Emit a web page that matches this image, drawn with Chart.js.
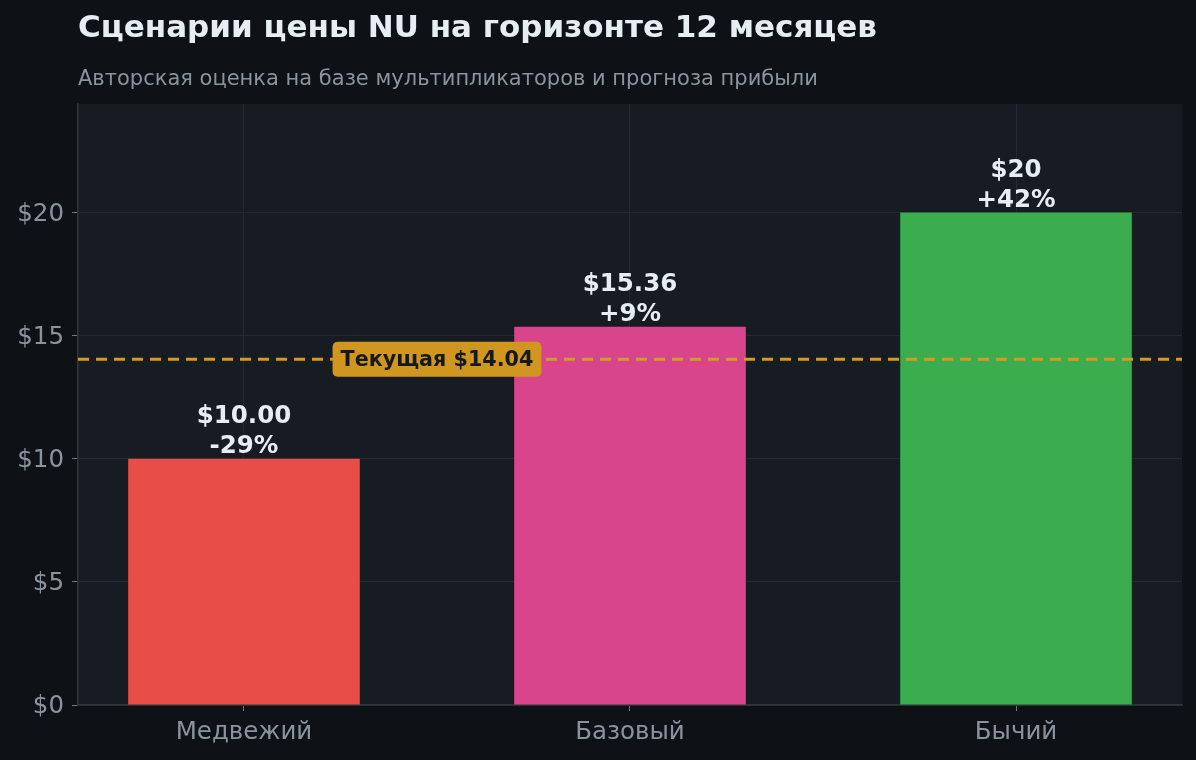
<!DOCTYPE html>
<html lang="ru">
<head>
<meta charset="utf-8">
<title>Сценарии цены NU</title>
<script src="https://cdn.jsdelivr.net/npm/chart.js@4.4.1/dist/chart.umd.min.js"></script>
<style>
    html, body { margin: 0; padding: 0; background: #0e1217; }
    #wrap { width: 1196px; height: 760px; }
</style>
</head>
<body>
<div id="wrap"><canvas id="chart" width="1196" height="760"></canvas></div>
<script>
// данные сценариев
const scenarios = ['Медвежий', 'Базовый', 'Бычий'];
const targetPrices = [10.00, 15.36, 20];
const priceLabels = ['$10.00', '$15.36', '$20'];
const changeLabels = ['-29%', '+9%', '+42%'];
const yTicks = [0, 5, 10, 15, 20];
const currentPrice = 14.04;
const currentLabel = 'Текущая $14.04';

const titleText = 'Сценарии цены NU на горизонте 12 месяцев';
const subtitleText = 'Авторская оценка на базе мультипликаторов и прогноза прибыли';

const barColors = ['#e64e47', '#d9458d', '#3bad4e'];
const FONT = '"DejaVu Sans", sans-serif';

const backgroundPlugin = {
    id: 'background',
    beforeDraw(chart) {
        const {ctx, chartArea} = chart;
        ctx.save();
        ctx.fillStyle = '#0e1217';
        ctx.fillRect(0, 0, chart.width, chart.height);
        ctx.fillStyle = '#171b22';
        ctx.fillRect(chartArea.left, chartArea.top, chartArea.right - chartArea.left, chartArea.bottom - chartArea.top);
        ctx.restore();
    }
};

const headerPlugin = {
    id: 'header',
    afterDraw(chart) {
        const {ctx, chartArea} = chart;
        ctx.save();
        ctx.textAlign = 'left';
        ctx.textBaseline = 'middle';
        ctx.fillStyle = '#e6edf3';
        ctx.font = 'bold 31px ' + FONT;
        ctx.fillText(titleText, chartArea.left, 29);
        ctx.fillStyle = '#8b949e';
        ctx.font = '21px ' + FONT;
        ctx.fillText(subtitleText, chartArea.left, 80);
        ctx.restore();
    }
};

// подписи над столбцами и линия текущей цены
const annotationsPlugin = {
    id: 'annotations',
    afterDatasetsDraw(chart) {
        const {ctx, chartArea, scales} = chart;
        const meta = chart.getDatasetMeta(0);

        ctx.save();
        ctx.textAlign = 'center';
        ctx.textBaseline = 'middle';
        ctx.fillStyle = '#e6edf3';
        ctx.font = 'bold 24.5px ' + FONT;
        meta.data.forEach((bar, i) => {
            ctx.fillText(priceLabels[i], bar.x, bar.y - 42);
            ctx.fillText(changeLabels[i], bar.x, bar.y - 12);
        });

        const y = scales.y.getPixelForValue(currentPrice);
        ctx.strokeStyle = '#d29a2a';
        ctx.lineWidth = 3;
        ctx.setLineDash([11, 7]);
        ctx.beginPath();
        ctx.moveTo(chartArea.left, y);
        ctx.lineTo(chartArea.right, y);
        ctx.stroke();
        ctx.setLineDash([]);

        const cx = scales.x.getPixelForValue(0.5);
        ctx.font = 'bold 20.7px ' + FONT;
        const w = ctx.measureText(currentLabel).width + 16;
        const h = 35;
        ctx.fillStyle = '#d1961f';
        ctx.beginPath();
        ctx.roundRect(cx - w / 2, y - h / 2, w, h, 5);
        ctx.fill();
        ctx.fillStyle = '#15181d';
        ctx.fillText(currentLabel, cx, y + 1);
        ctx.restore();
    }
};

new Chart(document.getElementById('chart'), {
    type: 'bar',
    data: {
        datasets: [{
            data: scenarios.map((name, i) => ({x: i, y: targetPrices[i]})),
            backgroundColor: barColors,
            borderWidth: 0,
            barPercentage: 0.6,
            categoryPercentage: 1.0,
        }]
    },
    options: {
        responsive: false,
        animation: false,
        layout: {padding: {left: 0, top: 104, right: 14, bottom: 0}},
        plugins: {
            legend: {display: false},
            tooltip: {enabled: false},
        },
        scales: {
            x: {
                type: 'linear',
                min: -0.43,
                max: 2.43,
                offset: false,
                afterFit: scale => { scale.height = 55; },
                border: {color: '#30363d', width: 1.5},
                grid: {offset: false, color: '#232831', tickColor: '#6e7681', tickLength: 6, lineWidth: 1},
                ticks: {
                    stepSize: 1,
                    includeBounds: false,
                    color: '#8b949e',
                    padding: 7,
                    font: {family: FONT, size: 24.5},
                    callback: v => scenarios[v] ?? '',
                },
            },
            y: {
                min: 0,
                max: 24.4,
                afterFit: scale => { scale.width = 78; },
                afterBuildTicks: scale => { scale.ticks = yTicks.map(v => ({value: v})); },
                border: {color: '#30363d', width: 1.5},
                grid: {color: '#232831', tickColor: '#6e7681', tickLength: 6, lineWidth: 1},
                ticks: {
                    color: '#8b949e',
                    padding: 8,
                    labelOffset: 2,
                    font: {family: FONT, size: 24.5},
                    callback: v => '$' + v,
                },
            },
        },
    },
    plugins: [backgroundPlugin, headerPlugin, annotationsPlugin],
});
</script>
</body>
</html>
